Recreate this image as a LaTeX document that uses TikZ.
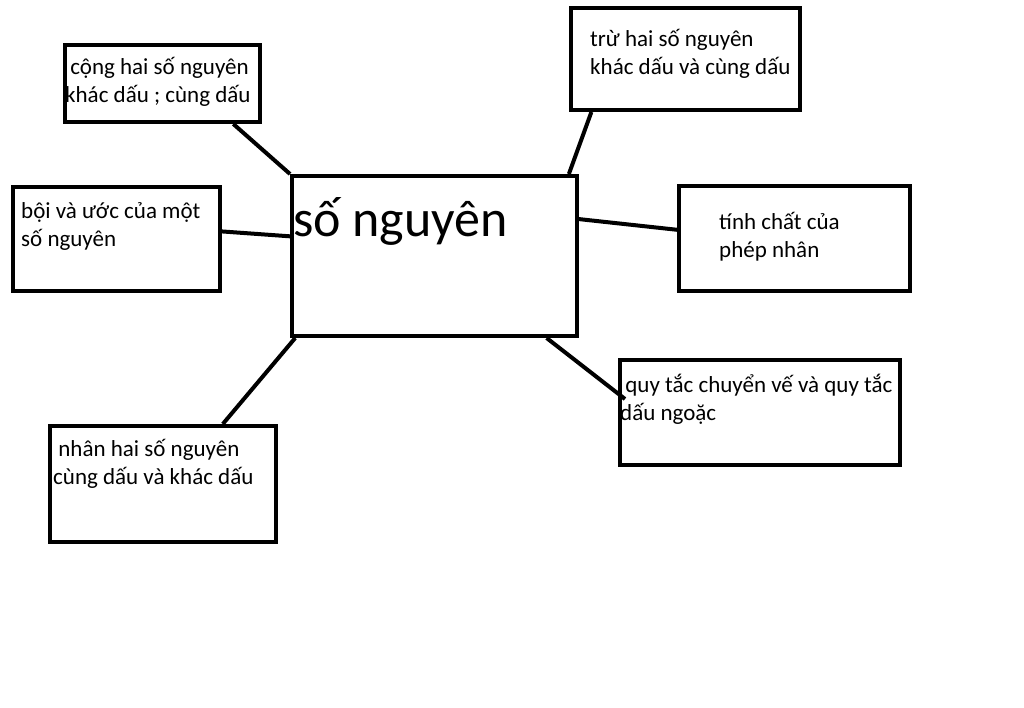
\documentclass[tikz,border=0pt]{standalone}
\usepackage{fontspec}
\setmainfont{Carlito}
\usetikzlibrary{calc}

\begin{document}
\begin{tikzpicture}[x=1pt,y=-1pt,
    topic/.style={draw,line width=4pt,inner sep=0pt},
    note/.style={inner sep=0pt,align=left,anchor=base west,font=\fontsize{23}{28}\selectfont},
    link/.style={line width=4pt}]
        \useasboundingbox (0,0) rectangle (1024,708);
        %% Boxes
        \node[topic,minimum width=285,minimum height=160] (so) at (434.5,256) {};
        \node[topic,minimum width=195,minimum height=77] (cong) at (162.5,83.5) {};
        \node[topic,minimum width=229,minimum height=102] (tru) at (685.5,59) {};
        \node[topic,minimum width=207,minimum height=104] (boi) at (116.5,239) {};
        \node[topic,minimum width=231,minimum height=105] (tinh) at (794.5,238.5) {};
        \node[topic,minimum width=226,minimum height=116] (nhan) at (163,484) {};
        \node[topic,minimum width=280,minimum height=105] (quytac) at (760,412.5) {};
        %% Texts (base = last line)
        \node[note,font=\fontsize{52}{60}\selectfont] (so-t) at ([shift={(3,63)}]so.north west) {số nguyên};
        \node[note] (cong-t) at ([shift={(2,60)}]cong.north west) {\ cộng hai số nguyên\\khác dấu ; cùng dấu};
        \node[note] (tru-t) at ([shift={(21,69)}]tru.north west) {trừ hai số nguyên\\khác dấu và cùng dấu};
        \node[note] (boi-t) at ([shift={(10,62)}]boi.north west) {bội và ước của một\\số nguyên};
        \node[note] (tinh-t) at ([shift={(42,74)}]tinh.north west) {tính chất của\\phép nhân};
        \node[note] (nhan-t) at ([shift={(5,60)}]nhan.north west) {\ nhân hai số nguyên\\cùng dấu và khác dấu};
        \node[note] (quytac-t) at ([shift={(2,62)}]quytac.north west) {\ quy tắc chuyển vế và quy tắc\\dấu ngoặc};
        %% Links
        \draw[link] ($(cong.south west)!0.856!(cong.south east)$) -- (so.north west);
        \draw[link] ($(tru.south west)!0.096!(tru.south east)$) -- ($(so.north west)!0.965!(so.north east)$);
        \draw[link] ($(boi.north east)!0.43!(boi.south east)$) -- ($(so.north west)!0.38!(so.south west)$);
        \draw[link] ($(so.north east)!0.275!(so.south east)$) -- ($(tinh.north west)!0.42!(tinh.south west)$);
        \draw[link] ($(so.south west)!0.018!(so.south east)$) -- ($(nhan.north west)!0.76!(nhan.north east)$);
        \draw[link] ($(so.south west)!0.888!(so.south east)$) -- ([shift={(7,41)}]quytac.north west);
    \end{tikzpicture}
\end{document}
